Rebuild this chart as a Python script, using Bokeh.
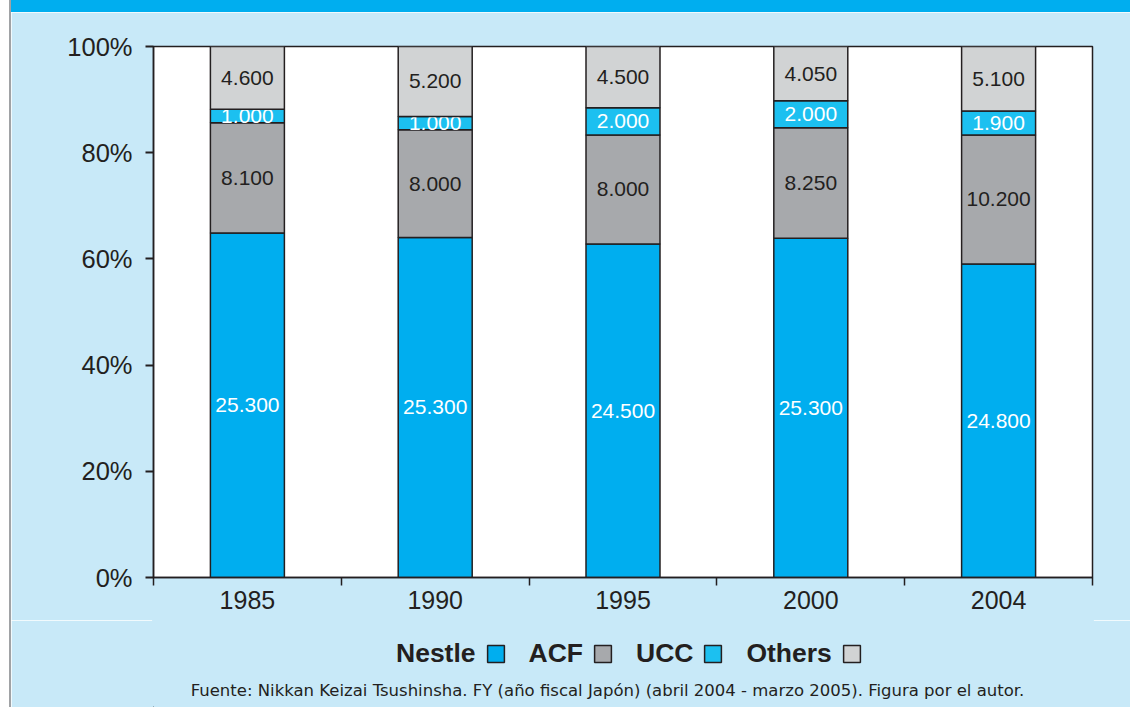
from bokeh.plotting import figure
from bokeh.layouts import column, row
from bokeh.models import (ColumnDataSource, FixedTicker, PrintfTickFormatter, Legend,
                          LegendItem, Label, Div, Range1d)
from bokeh.embed import file_html
from bokeh.resources import INLINE
from bokeh.core.properties import value

# ---- data ----
years = ["1985", "1990", "1995", "2000", "2004"]
series = ["Nestle", "ACF", "UCC", "Others"]
nestle = [25.3, 25.3, 24.5, 25.3, 24.8]
acf = [8.1, 8.0, 8.0, 8.25, 10.2]
ucc = [1.0, 1.0, 2.0, 2.0, 1.9]
others = [4.6, 5.2, 4.5, 4.05, 5.1]
y_ticks = [0, 20, 40, 60, 80, 100]
footnote = ("Fuente: Nikkan Keizai Tsushinsha. FY (año fiscal Japón) "
            "(abril 2004 - marzo 2005). Figura por el autor.")

# ---- styles ----
colors = ["#00aeef", "#a7a9ac", "#1cc0f0", "#d1d3d4"]
label_colors = ["#ffffff", "#231f20", "#ffffff", "#231f20"]
BG = "#c8e9f8"
BAND = "#00aeef"
INK = "#231f20"
FONT = "Liberation Sans"

STRIP_W, BAND_H = 11, 12
W = 1130 - STRIP_W
MAIN_H = 620 - BAND_H
LEG_H = 707 - 620

p = figure(width=W, height=MAIN_H, x_range=(0, 5), y_range=(0, 100),
           output_backend="svg", toolbar_location=None,
           min_border_left=153 - STRIP_W, min_border_right=38,
           min_border_top=46 - BAND_H, min_border_bottom=43)
p.background_fill_color = "white"
p.border_fill_color = BG
p.outline_line_color = INK
p.outline_line_width = 1.5
p.grid.visible = False

xs = [i + 0.5 for i in range(len(years))]
data = [nestle, acf, ucc, others]
totals = [sum(v) for v in zip(*data)]
bottom = [0.0] * len(years)
for name, vals, col, lc in zip(series, data, colors, label_colors):
    pct = [v / t * 100 for v, t in zip(vals, totals)]
    top = [b + q for b, q in zip(bottom, pct)]
    mid = [(b + t) / 2 for b, t in zip(bottom, top)]
    src = ColumnDataSource(dict(x=xs, bottom=bottom, top=top, mid=mid,
                                label=[f"{v:.3f}" for v in vals]))
    p.vbar(x="x", width=0.394, bottom="bottom", top="top", source=src,
           fill_color=col, line_color=INK, line_width=1.5)
    p.text(x="x", y="mid", text="label", source=src, text_align="center",
           text_baseline="middle", text_color=lc, text_font=value(FONT),
           text_font_size="21px")
    bottom = top

# x axis: ticks on category boundaries, labels at centres
xa = p.xaxis[0]
xa.ticker = FixedTicker(ticks=xs, minor_ticks=list(range(len(years) + 1)))
xa.major_label_overrides = {x: y for x, y in zip(xs, years)}
xa.major_tick_out = 0
xa.major_tick_in = 0
xa.minor_tick_out = 8
xa.minor_tick_in = 0
xa.minor_tick_line_color = INK
xa.minor_tick_line_width = 1.5
xa.axis_line_color = INK
xa.axis_line_width = 1.5
xa.major_label_standoff = 5
xa.major_label_text_font = FONT
xa.major_label_text_font_size = "25px"
xa.major_label_text_color = INK

ya = p.yaxis[0]
ya.ticker = FixedTicker(ticks=y_ticks, minor_ticks=[])
ya.formatter = PrintfTickFormatter(format="%d%%")
ya.major_tick_out = 8
ya.major_tick_in = 0
ya.major_tick_line_color = INK
ya.major_tick_line_width = 2
ya.axis_line_color = INK
ya.axis_line_width = 1.5
ya.major_label_standoff = 13
ya.major_label_text_font = FONT
ya.major_label_text_font_size = "25.5px"
ya.major_label_text_color = INK

# ---- legend + source strip below the chart ----
leg = figure(width=W, height=LEG_H, output_backend="svg", toolbar_location=None,
             x_range=Range1d(0, 1), y_range=Range1d(0, 1),
             x_axis_location=None, y_axis_location=None,
             min_border_left=0, min_border_right=0,
             min_border_top=0, min_border_bottom=0)
leg.background_fill_color = BG
leg.border_fill_color = BG
leg.outline_line_color = BG
leg.outline_line_width = 3
leg.grid.visible = False

# hidden carriers (outside the visible range) that only supply legend swatches
dummy = leg.vbar(x=[-1], top=[-1], bottom=[-1], width=0, fill_alpha=0, line_alpha=0)
swatches = [leg.vbar(x=[-1], top=[-1], bottom=[-1], width=0, fill_color=c,
                     line_color=INK, line_width=1.5) for c in colors]
# each name is followed by its own swatch (drawn by the next legend entry)
owners = [dummy] + swatches[:-1]
items = [LegendItem(label=name, renderers=[r]) for name, r in zip(series, owners)]
items.append(LegendItem(label=" ", renderers=[swatches[-1]]))
legend = Legend(items=items, orientation="horizontal", location=(199, 38),
                glyph_width=21, glyph_height=21, label_standoff=23, spacing=9,
                padding=0, margin=0, border_line_alpha=0, background_fill_alpha=0,
                label_text_font=FONT, label_text_font_size="26.5px",
                label_text_font_style="bold", label_text_color=INK)
leg.add_layout(legend)
leg.add_layout(Label(x=454, y=17, x_units="screen", y_units="screen", text=footnote,
                     text_font="DejaVu Sans", text_font_size="16.5px", text_color=INK,
                     text_align="center", text_baseline="middle"))

band = Div(text="", width=W, height=BAND_H,
           styles={"background-color": BAND, "margin": "0", "padding": "0"})
strip = Div(text="", width=STRIP_W, height=707,
            styles={"background-color": "white", "border-right": "2px solid #a0a2a5",
                    "box-sizing": "border-box", "margin": "0", "padding": "0"})

layout = row(strip, column(band, p, leg, spacing=0), spacing=0)
open("out.html", "w").write(file_html(layout, INLINE))
